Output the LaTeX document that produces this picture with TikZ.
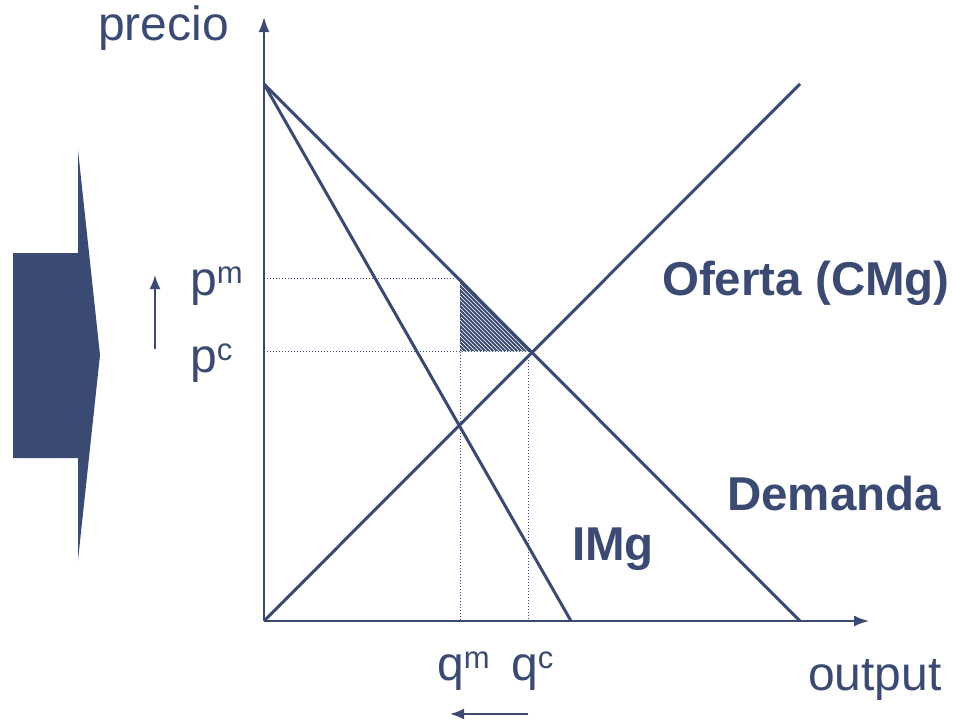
\documentclass[tikz,border=0pt]{standalone}
\usepackage{fontspec}
\setmainfont{Liberation Sans}
\usetikzlibrary{arrows.meta}
\definecolor{navy}{HTML}{3B4A72}
\begin{document}
\begin{tikzpicture}[x=1pt,y=-1pt,
  curve/.style={navy,line width=3pt},
  axis/.style={navy,line width=2pt,-{Latex[length=15pt,width=11pt]}},
  guide/.style={navy,line width=1pt,dotted},
  lbl/.style={inner sep=0pt,anchor=base west,text=navy,font=\fontsize{48}{52}\selectfont},
  blbl/.style={lbl,font=\fontsize{47.5}{52}\selectfont\bfseries},
  smallarrow/.style={navy,line width=2pt,-{Latex[length=14pt,width=11pt]}}]
\useasboundingbox (0,0) rectangle (953,721);
\newcommand{\supx}[2]{#1\raisebox{12pt}{\fontsize{31}{31}\selectfont #2}}
% coordinates
\coordinate (O) at (264,621);
\coordinate (ytop) at (264,17);
\coordinate (xend) at (869,621);
\coordinate (A) at (264,84);
\coordinate (Dend) at (800,621);
\coordinate (Mend) at (571,621);
\coordinate (Send) at (800,84);
\coordinate (pmL) at (264,278);
\coordinate (pmR) at (460,278);
\coordinate (pcL) at (264,351);
\coordinate (pcR) at (532,351);
\coordinate (qm) at (460,621);
\coordinate (qcT) at (528,351);
\coordinate (qc) at (528,621);
\coordinate (tri) at (460,351);
% hatched triangle
\begin{scope}
\clip (pmR) -- (tri) -- (pcR) -- cycle;
\foreach \k in {-80,-76,...,80}
  \draw[navy,line width=2pt] (460+\k,278) -- ++(90,90);
\end{scope}
% guides
\draw[guide] (pmL) -- (pmR) -- (qm);
\draw[guide] (pcL) -- (pcR);
\draw[guide] (qcT) -- (qc);
% axes
\draw[axis] (O) -- (ytop);
\draw[axis] (O) -- (xend);
% curves
\draw[curve] (A) -- (Dend);
\draw[curve] (A) -- (Mend);
\draw[curve] (O) -- (Send);
% big arrow
\fill[navy] (13,253) -- (78,253) -- (78,150) -- (100,355) -- (78,560) -- (78,458) -- (13,458) -- cycle;
% small arrows
\coordinate (ua1) at (155,349);
\coordinate (ua2) at (155,275);
\draw[smallarrow] (ua1) -- (ua2);
\coordinate (la1) at (528,714);
\coordinate (la2) at (450,714);
\draw[smallarrow] (la1) -- (la2);
% labels
\node[lbl] (precio) at (98,40) {precio};
\node[lbl] (output) at (808,690) {output};
\node[blbl] (oferta) at (662,295) {Oferta (CMg)};
\node[blbl] (demanda) at (727,510) {Demanda};
\node[blbl] (img) at (572,560) {IMg};
\node[lbl] (pm) at (190,295) {\supx{p}{m}};
\node[lbl] (pc) at (190,372) {\supx{p}{c}};
\node[lbl] (qml) at (437,680) {\supx{q}{m}};
\node[lbl] (qcl) at (511,680) {\supx{q}{c}};
\end{tikzpicture}
\end{document}
